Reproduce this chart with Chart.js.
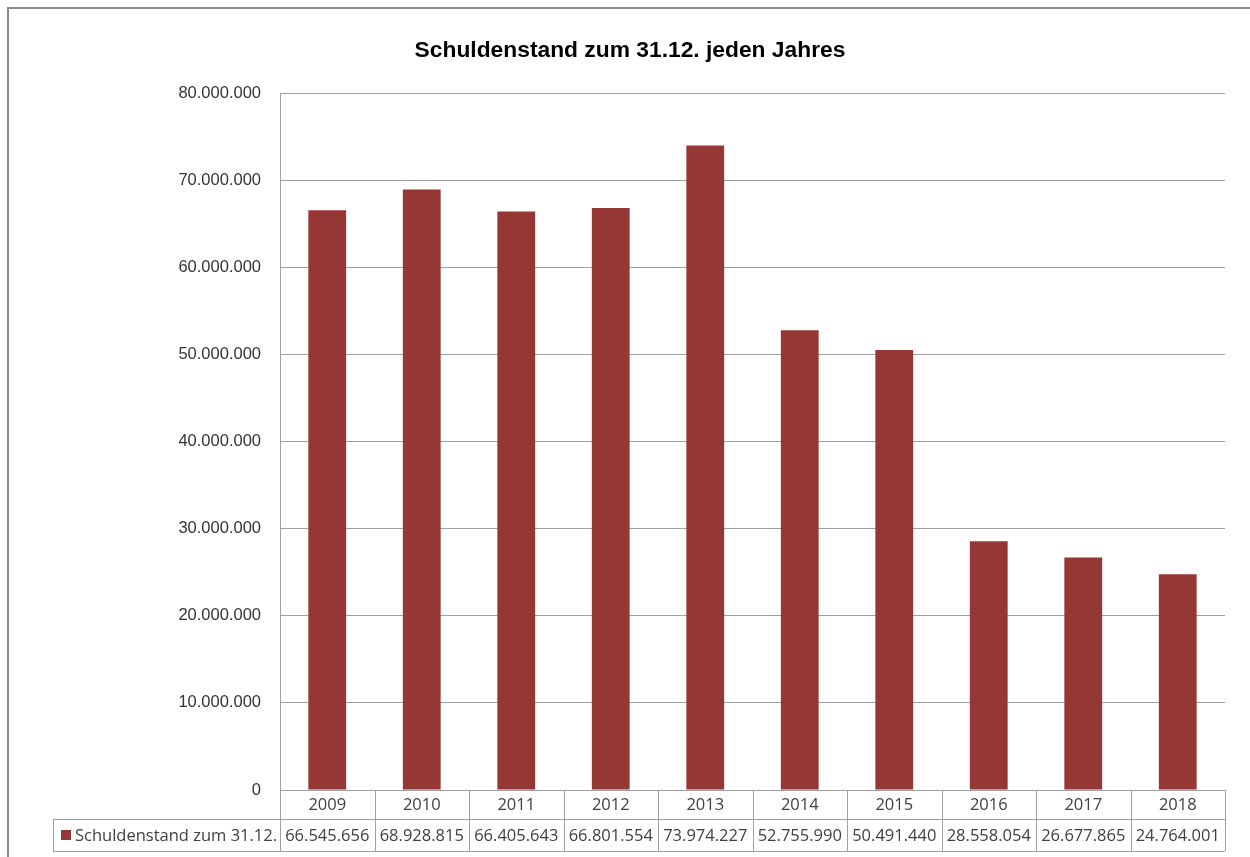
<!DOCTYPE html>
<html>
<head>
<meta charset="utf-8">
<script src="https://cdn.jsdelivr.net/npm/chart.js@4.4.1/dist/chart.umd.min.js"></script>
<style>
  html, body { margin: 0; padding: 0; background: #fff; }
  #wrap { width: 1250px; height: 857px; }
</style>
</head>
<body>
<div id="wrap"><canvas id="debtChart" width="1250" height="857"></canvas></div>
<script>
// data (values from its data table)
const years = ['2009', '2010', '2011', '2012', '2013', '2014', '2015', '2016', '2017', '2018'];
const debt = [66545656, 68928815, 66405643, 66801554, 73974227, 52755990, 50491440, 28558054, 26677865, 24764001];
const seriesName = 'Schuldenstand zum 31.12.';
const chartTitle = 'Schuldenstand zum 31.12. jeden Jahres';
const yMax = 80000000;
const yStep = 10000000;

const barColor = '#953735';
const lineColor = '#a0a0a0';

// German thousands separator
const fmt = v => String(Math.round(v)).replace(/\B(?=(\d{3})+(?!\d))/g, '.');

// outer frame (only top and left edge visible in the screenshot) + title
const frame = {
  id: 'frame',
  beforeDraw(chart) {
    const ctx = chart.ctx;
    ctx.save();
    ctx.fillStyle = '#fff';
    ctx.fillRect(0, 0, chart.width, chart.height);
    ctx.fillStyle = '#8c8c8c';
    ctx.fillRect(7, 7, chart.width - 7, 2);
    ctx.fillRect(7, 7, 2, chart.height - 7);

    // title sits centred on the whole frame, not on the plot
    ctx.fillStyle = '#000';
    ctx.font = 'bold 22.8px "Liberation Sans", Arial, sans-serif';
    ctx.textAlign = 'center';
    ctx.textBaseline = 'alphabetic';
    ctx.fillText(chartTitle, 630, 57);
    ctx.restore();
  }
};

// Excel style data table below the plot area
const dataTable = {
  id: 'dataTable',
  afterDraw(chart) {
    const { ctx, chartArea: a, scales: { x } } = chart;
    const top = a.bottom;
    const mid = top + 29;
    const bottom = mid + 32;
    const tableLeft = 53;
    const half = (x.getPixelForValue(1) - x.getPixelForValue(0)) / 2;

    ctx.save();
    ctx.strokeStyle = lineColor;
    ctx.lineWidth = 1;
    ctx.beginPath();
    // horizontal lines
    ctx.moveTo(a.left, top + 0.5); ctx.lineTo(a.right, top + 0.5);
    ctx.moveTo(tableLeft, mid + 0.5); ctx.lineTo(a.right, mid + 0.5);
    ctx.moveTo(tableLeft, bottom + 0.5); ctx.lineTo(a.right, bottom + 0.5);
    // vertical lines
    ctx.moveTo(tableLeft + 0.5, mid); ctx.lineTo(tableLeft + 0.5, bottom);
    years.forEach((y, i) => {
      const bx = Math.round(x.getPixelForValue(i) - half) + 0.5;
      ctx.moveTo(bx, top); ctx.lineTo(bx, bottom);
    });
    const rx = Math.round(x.getPixelForValue(years.length - 1) + half) + 0.5;
    ctx.moveTo(rx, top); ctx.lineTo(rx, bottom);
    ctx.stroke();

    ctx.fillStyle = '#404040';
    ctx.font = '16.5px "Open Sans", sans-serif';
    ctx.textAlign = 'center';
    ctx.textBaseline = 'middle';
    years.forEach((y, i) => {
      const cx = x.getPixelForValue(i);
      ctx.fillText(y, cx, (top + mid) / 2 + 1);
      ctx.fillText(fmt(debt[i]), cx, (mid + bottom) / 2 + 1);
    });

    // legend key + series name
    ctx.fillStyle = barColor;
    ctx.fillRect(tableLeft + 8, mid + 11, 10, 10);
    ctx.fillStyle = '#404040';
    ctx.textAlign = 'left';
    ctx.fillText(seriesName, tableLeft + 22, (mid + bottom) / 2 + 1);
    ctx.restore();
  }
};

new Chart(document.getElementById('debtChart'), {
  type: 'bar',
  data: {
    labels: years,
    datasets: [{
      label: seriesName,
      data: debt,
      backgroundColor: barColor,
      categoryPercentage: 0.4,
      barPercentage: 1
    }]
  },
  options: {
    responsive: false,
    animation: false,
    layout: { padding: { left: 0, right: 25, top: 93, bottom: 67 } },
    plugins: {
      legend: { display: false },
      tooltip: { enabled: false },
      title: { display: false }
    },
    scales: {
      x: { display: false },
      y: {
        min: 0,
        max: yMax,
        afterFit(scale) { scale.width = 280; },
        ticks: {
          stepSize: yStep,
          padding: 19,
          color: '#333',
          font: { family: '"Liberation Sans", Arial, sans-serif', size: 16.5 },
          callback: v => fmt(v)
        },
        grid: { color: lineColor, drawTicks: false },
        border: { color: lineColor }
      }
    }
  },
  plugins: [frame, dataTable]
});
</script>
</body>
</html>
